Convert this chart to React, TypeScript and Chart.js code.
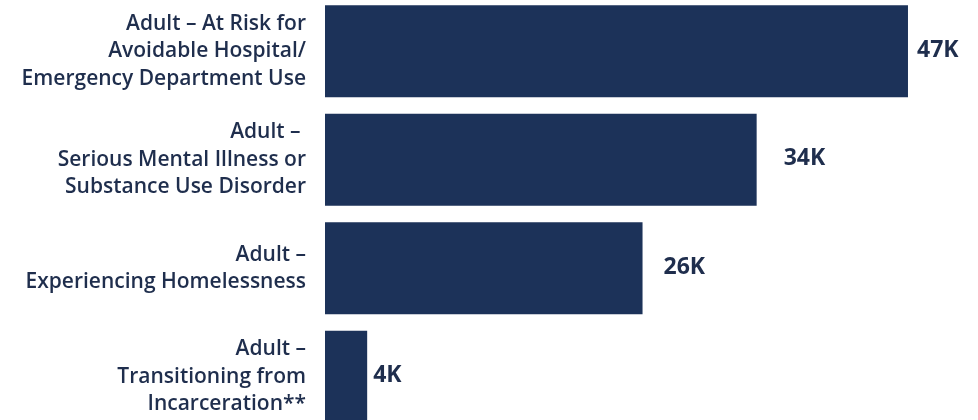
import React, { useEffect, useRef } from "react";
import { Chart, registerables } from "chart.js";

Chart.register(...registerables);

const categories: string[][] = [
  ["Adult – At Risk for", "Avoidable Hospital/", "Emergency Department Use"],
  ["Adult – ", "Serious Mental Illness or", "Substance Use Disorder"],
  ["Adult –", "Experiencing Homelessness"],
  ["Adult –", "Transitioning from", "Incarceration**"],
];
const values: number[] = [47, 34.8, 25.6, 3.4];
const valueLabels: string[] = ["47K", "34K", "26K", "4K"];

const NAVY = "#1c3259";
const TEXT = "#1f2e4d";
const LABEL_GAPS = [9, 27, 21, 6];

export default function App() {
  const ref = useRef<HTMLCanvasElement | null>(null);
  useEffect(() => {
    document.body.style.margin = "0";
    const ctx = ref.current!;
    const labelPlugin = {
      id: "valueLabels",
      afterDatasetsDraw(chart: any) {
        const c = chart.ctx;
        const meta = chart.getDatasetMeta(0);
        c.save();
        c.font = "700 23px 'Open Sans'";
        c.fillStyle = TEXT;
        c.textBaseline = "middle";
        c.textAlign = "left";
        meta.data.forEach((el: any, i: number) => {
          c.fillText(valueLabels[i], el.x + LABEL_GAPS[i], el.y - 1);
        });
        c.restore();
      },
    };
    const chart = new Chart(ctx, {
      type: "bar",
      data: {
        labels: categories,
        datasets: [
          {
            data: values,
            backgroundColor: NAVY,
            borderWidth: 0,
            barPercentage: 0.848,
            categoryPercentage: 1,
          },
        ],
      },
      options: {
        indexAxis: "y",
        animation: false,
        responsive: false,
        maintainAspectRatio: false,
        layout: { padding: { left: 0, right: 8, top: 0, bottom: 0 } },
        plugins: { legend: { display: false }, tooltip: { enabled: false } },
        scales: {
          x: { display: false, min: 0, max: 52 },
          y: {
            grid: { display: false, drawTicks: false },
            border: { display: false },
            afterFit(scale: any) {
              scale.width = 325;
              scale.paddingTop = 0;
              scale.paddingBottom = 0;
            },
            ticks: {
              padding: 19,
              color: TEXT,
              font: { family: "'Open Sans'", size: 21, weight: 600, lineHeight: 1.3 },
            },
          },
        },
      },
      plugins: [labelPlugin],
    });
    return () => chart.destroy();
  }, []);
  return (
    <div style={{ position: "relative", width: 978, height: 420, overflow: "hidden", background: "#fff" }}>
      <canvas ref={ref} width={978} height={434} style={{ position: "absolute", left: 0, top: -3, width: 978, height: 434 }} />
    </div>
  );
}
